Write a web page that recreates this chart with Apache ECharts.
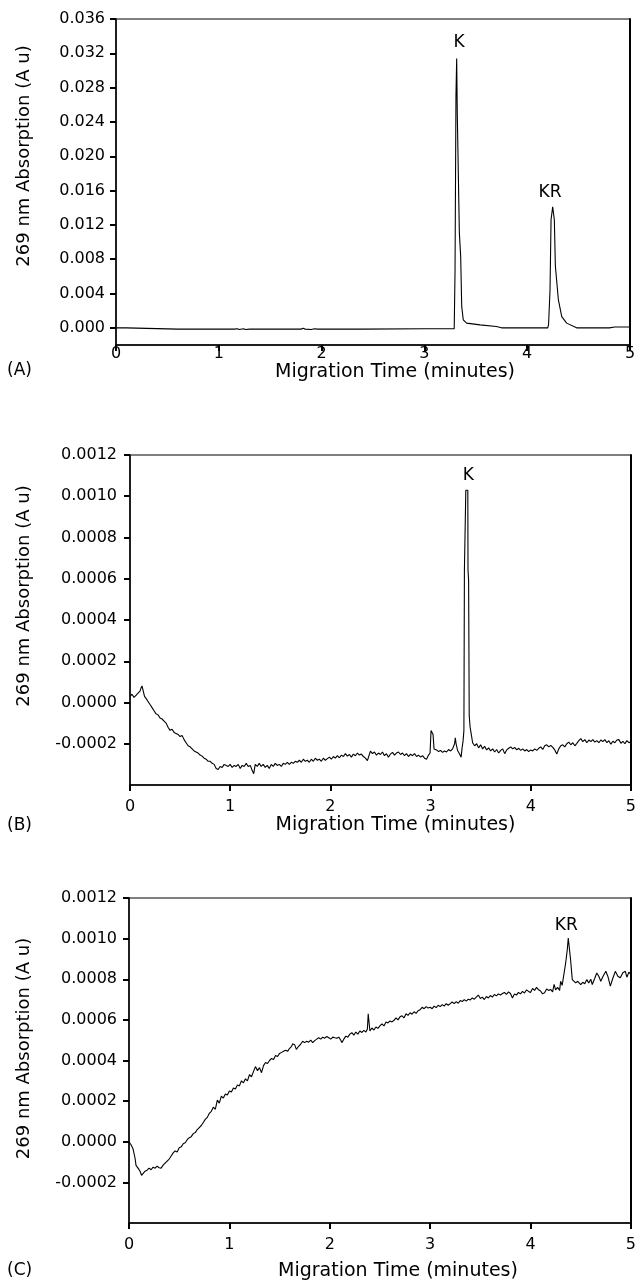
<!DOCTYPE html>
<html>
<head>
<meta charset="utf-8">
<script src="https://cdn.jsdelivr.net/npm/echarts@6/dist/echarts.min.js"></script>
<style>
  html, body { margin: 0; padding: 0; background: #fff; }
  #main { width: 639px; height: 1282px; }
</style>
</head>
<body>
<div id="main"></div>
<script>
// tick labels
var timeTicks = [0, 1, 2, 3, 4, 5];
var ticksA = [0, 0.004, 0.008, 0.012, 0.016, 0.020, 0.024, 0.028, 0.032, 0.036];
var ticksBC = [-0.0002, 0, 0.0002, 0.0004, 0.0006, 0.0008, 0.0010, 0.0012];

// panel A trace [minutes, A u]
var traceA = [
  [0.00, 0.0000], [0.10, 0.0000], [0.11, -0.00015], [0.60, -0.00015], [1.15, -0.00015],
  [1.16, -0.00005], [1.18, -0.00010], [1.20, -0.00020], [1.24, -0.00010], [1.26, -0.00020],
  [1.30, -0.00015], [1.80, -0.00015], [1.82, -0.00005], [1.84, -0.00015], [1.90, -0.00020],
  [1.93, -0.00010], [1.96, -0.00015], [2.40, -0.00015], [3.00, -0.00010], [3.29, -0.00010],
  [3.298, 0.0066], [3.307, 0.0270], [3.314, 0.0314], [3.320, 0.0249], [3.334, 0.0249],
  [3.340, 0.0111], [3.353, 0.0083], [3.363, 0.0025], [3.378, 0.00094], [3.411, 0.00055],
  [3.541, 0.00035], [3.70, 0.00016], [3.75, 0.0000], [4.20, 0.0000], [4.208, 0.0004],
  [4.222, 0.0044], [4.232, 0.0126], [4.248, 0.0141], [4.264, 0.0126], [4.274, 0.0072],
  [4.303, 0.0033], [4.336, 0.0013], [4.384, 0.00055], [4.48, 0.0000], [4.80, 0.0000],
  [4.85, 0.0001], [5.00, 0.0001]
];

// panel B trace
var traceB = [
  [0.00, 0.000030], [0.02, 0.000040], [0.04, 0.000025], [0.06, 0.000035], [0.08, 0.000045],
  [0.10, 0.000055], [0.11, 0.000070], [0.12, 0.000080], [0.13, 0.000060], [0.145, 0.000030],
  [0.16, 0.000020], [0.18, 0.000005], [0.20, -0.000010], [0.22, -0.000025], [0.24, -0.000040],
  [0.26, -0.000055], [0.28, -0.000060], [0.30, -0.000075], [0.32, -0.000080], [0.34, -0.000090],
  [0.36, -0.000100], [0.38, -0.000120], [0.40, -0.000135], [0.42, -0.000130], [0.44, -0.000145],
  [0.46, -0.000150], [0.48, -0.000155], [0.50, -0.000165], [0.52, -0.000160], [0.54, -0.000180],
  [0.56, -0.000195], [0.58, -0.000210], [0.60, -0.000215], [0.62, -0.000225], [0.64, -0.000235],
  [0.66, -0.000240], [0.68, -0.000245], [0.70, -0.000255], [0.72, -0.000260], [0.74, -0.000270],
  [0.76, -0.000275], [0.78, -0.000285], [0.80, -0.000285], [0.82, -0.000295], [0.84, -0.000300],
  [0.86, -0.000320], [0.88, -0.000325], [0.90, -0.000310], [0.92, -0.000315], [0.94, -0.000300],
  [0.96, -0.000305], [0.98, -0.000310], [1.00, -0.000300], [1.02, -0.000315], [1.04, -0.000305],
  [1.06, -0.000310], [1.08, -0.000300], [1.10, -0.000320], [1.12, -0.000305], [1.14, -0.000310],
  [1.16, -0.000295], [1.18, -0.000310], [1.20, -0.000305], [1.22, -0.000330], [1.235, -0.000345],
  [1.25, -0.000300], [1.27, -0.000310], [1.29, -0.000295], [1.31, -0.000310], [1.33, -0.000300],
  [1.35, -0.000315], [1.37, -0.000305], [1.39, -0.000320], [1.41, -0.000300], [1.43, -0.000310],
  [1.45, -0.000295], [1.47, -0.000305], [1.49, -0.000300], [1.51, -0.000310], [1.53, -0.000295],
  [1.55, -0.000300], [1.57, -0.000290], [1.59, -0.000300], [1.61, -0.000290], [1.63, -0.000295],
  [1.65, -0.000285], [1.67, -0.000290], [1.69, -0.000280], [1.71, -0.000290], [1.73, -0.000275],
  [1.75, -0.000285], [1.77, -0.000280], [1.79, -0.000290], [1.81, -0.000275], [1.83, -0.000285],
  [1.85, -0.000270], [1.87, -0.000280], [1.89, -0.000275], [1.91, -0.000285], [1.93, -0.000270],
  [1.95, -0.000280], [1.97, -0.000272], [1.99, -0.000265], [2.01, -0.000275], [2.03, -0.000262],
  [2.05, -0.000270], [2.07, -0.000258], [2.09, -0.000268], [2.11, -0.000255], [2.13, -0.000262],
  [2.15, -0.000248], [2.17, -0.000260], [2.19, -0.000252], [2.21, -0.000265], [2.23, -0.000250],
  [2.25, -0.000258], [2.27, -0.000245], [2.29, -0.000255], [2.31, -0.000250], [2.33, -0.000262],
  [2.35, -0.000270], [2.37, -0.000282], [2.39, -0.000250], [2.40, -0.000236], [2.42, -0.000248],
  [2.44, -0.000240], [2.46, -0.000255], [2.48, -0.000245], [2.50, -0.000252], [2.52, -0.000240],
  [2.54, -0.000258], [2.56, -0.000248], [2.58, -0.000265], [2.60, -0.000250], [2.62, -0.000242],
  [2.64, -0.000255], [2.66, -0.000245], [2.68, -0.000240], [2.70, -0.000252], [2.72, -0.000245],
  [2.74, -0.000258], [2.76, -0.000248], [2.78, -0.000262], [2.80, -0.000250], [2.82, -0.000258],
  [2.84, -0.000248], [2.86, -0.000262], [2.88, -0.000255], [2.90, -0.000265], [2.92, -0.000258],
  [2.94, -0.000270], [2.96, -0.000275], [2.98, -0.000255], [2.995, -0.000245], [3.005, -0.000136],
  [3.015, -0.000145], [3.025, -0.000155], [3.035, -0.000225], [3.06, -0.000230], [3.08, -0.000238],
  [3.10, -0.000232], [3.12, -0.000242], [3.14, -0.000235], [3.16, -0.000240], [3.18, -0.000228],
  [3.20, -0.000235], [3.22, -0.000225], [3.24, -0.000200], [3.247, -0.000171], [3.255, -0.000200],
  [3.27, -0.000233], [3.29, -0.000250], [3.305, -0.000265], [3.315, -0.000220], [3.325, -0.000185],
  [3.333, -0.000136], [3.338, 0.000641], [3.347, 0.000649], [3.352, 0.001029], [3.372, 0.001029],
  [3.374, 0.000641], [3.380, 0.000592], [3.386, -0.000063], [3.395, -0.000120], [3.403, -0.000144],
  [3.42, -0.000195], [3.44, -0.000210], [3.46, -0.000200], [3.48, -0.000220], [3.50, -0.000205],
  [3.52, -0.000225], [3.54, -0.000212], [3.56, -0.000230], [3.58, -0.000220], [3.60, -0.000235],
  [3.62, -0.000225], [3.64, -0.000240], [3.66, -0.000228], [3.68, -0.000245], [3.70, -0.000232],
  [3.72, -0.000225], [3.74, -0.000248], [3.76, -0.000230], [3.78, -0.000222], [3.80, -0.000215],
  [3.82, -0.000225], [3.84, -0.000218], [3.86, -0.000230], [3.88, -0.000222], [3.90, -0.000232],
  [3.92, -0.000225], [3.94, -0.000235], [3.96, -0.000228], [3.98, -0.000238], [4.00, -0.000230],
  [4.02, -0.000235], [4.04, -0.000225], [4.06, -0.000232], [4.08, -0.000222], [4.10, -0.000215],
  [4.12, -0.000228], [4.14, -0.000210], [4.16, -0.000205], [4.18, -0.000215], [4.20, -0.000208],
  [4.22, -0.000218], [4.24, -0.000230], [4.26, -0.000250], [4.28, -0.000225], [4.30, -0.000210],
  [4.32, -0.000205], [4.34, -0.000215], [4.36, -0.000200], [4.38, -0.000192], [4.40, -0.000205],
  [4.42, -0.000195], [4.44, -0.000210], [4.46, -0.000198], [4.48, -0.000185], [4.50, -0.000175],
  [4.52, -0.000190], [4.54, -0.000180], [4.56, -0.000195], [4.58, -0.000182], [4.60, -0.000190],
  [4.62, -0.000180], [4.64, -0.000192], [4.66, -0.000185], [4.68, -0.000195], [4.70, -0.000182],
  [4.72, -0.000190], [4.74, -0.000180], [4.76, -0.000195], [4.78, -0.000185], [4.80, -0.000202],
  [4.82, -0.000188], [4.84, -0.000195], [4.86, -0.000182], [4.88, -0.000180], [4.90, -0.000198],
  [4.92, -0.000188], [4.94, -0.000200], [4.96, -0.000185], [4.98, -0.000195], [5.00, -0.000190]
];

// panel C trace
var traceC = [
  [0.00, 0.000000], [0.02, -0.000015], [0.04, -0.000035], [0.06, -0.000080], [0.07, -0.000116],
  [0.09, -0.000130], [0.11, -0.000145], [0.125, -0.000165], [0.14, -0.000160], [0.16, -0.000145],
  [0.18, -0.000140], [0.20, -0.000130], [0.22, -0.000138], [0.24, -0.000125], [0.26, -0.000130],
  [0.28, -0.000120], [0.30, -0.000128], [0.32, -0.000130], [0.34, -0.000115], [0.36, -0.000105],
  [0.38, -0.000095], [0.40, -0.000085], [0.42, -0.000070], [0.44, -0.000055], [0.46, -0.000045],
  [0.48, -0.000050], [0.50, -0.000030], [0.52, -0.000025], [0.54, -0.000010], [0.56, -0.000005],
  [0.58, 0.000010], [0.60, 0.000020], [0.62, 0.000025], [0.64, 0.000040], [0.66, 0.000045],
  [0.68, 0.000060], [0.70, 0.000070], [0.72, 0.000080], [0.74, 0.000095], [0.76, 0.000110],
  [0.78, 0.000120], [0.80, 0.000140], [0.82, 0.000150], [0.84, 0.000170], [0.86, 0.000160],
  [0.88, 0.000205], [0.90, 0.000190], [0.92, 0.000225], [0.94, 0.000215], [0.96, 0.000235],
  [0.98, 0.000230], [1.00, 0.000250], [1.02, 0.000245], [1.04, 0.000265], [1.06, 0.000260],
  [1.08, 0.000280], [1.10, 0.000275], [1.12, 0.000300], [1.14, 0.000290], [1.16, 0.000310],
  [1.18, 0.000300], [1.20, 0.000330], [1.22, 0.000320], [1.24, 0.000345], [1.26, 0.000370],
  [1.28, 0.000350], [1.30, 0.000365], [1.32, 0.000340], [1.34, 0.000375], [1.36, 0.000390],
  [1.38, 0.000385], [1.40, 0.000400], [1.42, 0.000410], [1.44, 0.000405], [1.46, 0.000425],
  [1.48, 0.000420], [1.50, 0.000435], [1.52, 0.000440], [1.54, 0.000445], [1.56, 0.000450],
  [1.58, 0.000445], [1.60, 0.000460], [1.62, 0.000470], [1.63, 0.000482], [1.65, 0.000478],
  [1.667, 0.000455], [1.69, 0.000470], [1.71, 0.000480], [1.73, 0.000495], [1.75, 0.000488],
  [1.77, 0.000495], [1.79, 0.000490], [1.81, 0.000500], [1.83, 0.000488], [1.85, 0.000498],
  [1.87, 0.000505], [1.89, 0.000512], [1.91, 0.000505], [1.93, 0.000515], [1.95, 0.000510],
  [1.97, 0.000518], [1.99, 0.000512], [2.01, 0.000505], [2.03, 0.000515], [2.05, 0.000512],
  [2.07, 0.000510], [2.09, 0.000515], [2.11, 0.000500], [2.12, 0.000488], [2.14, 0.000505],
  [2.16, 0.000520], [2.18, 0.000515], [2.20, 0.000530], [2.22, 0.000537], [2.24, 0.000525],
  [2.26, 0.000540], [2.28, 0.000530], [2.30, 0.000545], [2.32, 0.000538], [2.34, 0.000548],
  [2.36, 0.000540], [2.375, 0.000555], [2.383, 0.000630], [2.392, 0.000622], [2.40, 0.000545],
  [2.42, 0.000560], [2.44, 0.000550], [2.46, 0.000565], [2.48, 0.000558], [2.50, 0.000570],
  [2.52, 0.000580], [2.54, 0.000570], [2.56, 0.000590], [2.58, 0.000585], [2.60, 0.000595],
  [2.62, 0.000590], [2.64, 0.000598], [2.66, 0.000610], [2.68, 0.000600], [2.70, 0.000615],
  [2.72, 0.000620], [2.74, 0.000610], [2.76, 0.000630], [2.78, 0.000622], [2.80, 0.000635],
  [2.82, 0.000628], [2.84, 0.000640], [2.86, 0.000632], [2.88, 0.000645], [2.90, 0.000650],
  [2.92, 0.000662], [2.94, 0.000655], [2.96, 0.000665], [2.98, 0.000658], [3.00, 0.000662],
  [3.02, 0.000655], [3.04, 0.000668], [3.06, 0.000660], [3.08, 0.000672], [3.10, 0.000665],
  [3.12, 0.000675], [3.14, 0.000668], [3.16, 0.000680], [3.18, 0.000672], [3.20, 0.000680],
  [3.22, 0.000688], [3.24, 0.000680], [3.26, 0.000690], [3.28, 0.000682], [3.30, 0.000695],
  [3.32, 0.000690], [3.34, 0.000700], [3.36, 0.000692], [3.38, 0.000702], [3.40, 0.000698],
  [3.42, 0.000708], [3.44, 0.000702], [3.46, 0.000712], [3.48, 0.000722], [3.50, 0.000705],
  [3.52, 0.000712], [3.54, 0.000700], [3.56, 0.000715], [3.58, 0.000708], [3.60, 0.000720],
  [3.62, 0.000712], [3.64, 0.000725], [3.66, 0.000718], [3.68, 0.000728], [3.70, 0.000722],
  [3.72, 0.000730], [3.74, 0.000735], [3.76, 0.000725], [3.78, 0.000738], [3.80, 0.000730],
  [3.82, 0.000708], [3.84, 0.000728], [3.86, 0.000722], [3.88, 0.000735], [3.90, 0.000728],
  [3.92, 0.000740], [3.94, 0.000732], [3.96, 0.000748], [3.98, 0.000740], [4.00, 0.000735],
  [4.02, 0.000755], [4.04, 0.000745], [4.06, 0.000760], [4.08, 0.000748], [4.10, 0.000742],
  [4.12, 0.000728], [4.14, 0.000733], [4.16, 0.000752], [4.18, 0.000745], [4.20, 0.000750],
  [4.22, 0.000738], [4.235, 0.000775], [4.25, 0.000748], [4.27, 0.000760], [4.29, 0.000745],
  [4.30, 0.000790], [4.315, 0.000770], [4.327, 0.000775], [4.35, 0.000880], [4.366, 0.000945],
  [4.376, 0.001003], [4.393, 0.001003], [4.399, 0.000896], [4.416, 0.000798], [4.43, 0.000790],
  [4.45, 0.000782], [4.47, 0.000790], [4.50, 0.000774], [4.52, 0.000785], [4.54, 0.000778],
  [4.56, 0.000798], [4.58, 0.000782], [4.60, 0.000800], [4.615, 0.000774], [4.64, 0.000805],
  [4.66, 0.000831], [4.68, 0.000815], [4.70, 0.000790], [4.72, 0.000812], [4.75, 0.000839],
  [4.77, 0.000815], [4.795, 0.000766], [4.82, 0.000805], [4.845, 0.000839], [4.87, 0.000815],
  [4.894, 0.000807], [4.92, 0.000832], [4.944, 0.000839], [4.96, 0.000810], [4.98, 0.000835],
  [5.00, 0.000823]
];

// peak names, placed at [minutes, A u]
var peaksA = [{ name: 'K', coord: [3.337, 0.0333] }, { name: 'KR', coord: [4.222, 0.01578] }];
var peaksB = [{ name: 'K', coord: [3.376, 0.001102] }];
var peaksC = [{ name: 'KR', coord: [4.356, 0.001063] }];

var FONT = 'DejaVu Sans';
var xName = 'Migration Time (minutes)';
var yName = '269 nm Absorption (A u)';

function makeX(idx, labelMargin, nameGap, shift) {
  return {
    gridIndex: idx, type: 'value', min: 0, max: 5, interval: 1,
    axisLine: { onZero: false, lineStyle: { color: '#000', width: 1.5 } },
    axisTick: { inside: false, length: 6, lineStyle: { color: '#000', width: 2 } },
    axisLabel: { color: '#000', fontFamily: FONT, fontSize: 16, margin: labelMargin,
      customValues: timeTicks },
    splitLine: { show: false },
    name: xName, nameLocation: 'middle', nameGap: nameGap,
    nameTextStyle: { color: '#000', fontFamily: FONT, fontSize: 19, padding: [0, 0, 0, shift * 2] }
  };
}

function makeY(idx, min, max, ticks, digits, labelMargin, nameGap, shift) {
  return {
    gridIndex: idx, type: 'value', min: min, max: max,
    axisLine: { show: true, onZero: false, lineStyle: { color: '#000', width: 1.5 } },
    axisTick: { show: true, inside: false, length: 6, lineStyle: { color: '#000', width: 2 },
      customValues: ticks },
    axisLabel: { color: '#000', fontFamily: FONT, fontSize: 16, margin: labelMargin,
      customValues: ticks,
      formatter: function (v) { return v.toFixed(digits); } },
    splitLine: { show: false },
    name: yName, nameLocation: 'middle', nameGap: nameGap,
    nameTextStyle: { color: '#000', fontFamily: FONT, fontSize: 18, padding: [0, 0, 0, shift * 2] }
  };
}

function makeRight(idx, min, max) {
  return {
    gridIndex: idx, type: 'value', position: 'right', min: min, max: max,
    axisLine: { show: true, onZero: false, lineStyle: { color: '#000', width: 2 } },
    axisTick: { show: false }, axisLabel: { show: false }, splitLine: { show: false }
  };
}

function makeSeries(data, xi, yi, peaks) {
  return {
    type: 'line', xAxisIndex: xi, yAxisIndex: yi, data: data,
    showSymbol: false, symbol: 'none', animation: false, silent: true,
    lineStyle: { color: '#000', width: 1.1 },
    markPoint: {
      symbol: 'circle', symbolSize: 0, animation: false, silent: true,
      label: { show: true, position: 'inside', color: '#000', fontFamily: FONT, fontSize: 17,
        formatter: function (p) { return p.name; } },
      data: peaks
    }
  };
}

var myChart = echarts.init(document.getElementById('main'), null, { renderer: 'canvas' });

myChart.setOption({
  backgroundColor: '#fff',
  animation: false,
  title: [
    { text: '(A)', left: 7, top: 362, textStyle: { fontFamily: FONT, fontSize: 17, fontWeight: 'normal', color: '#000' }, padding: 0 },
    { text: '(B)', left: 7, top: 817, textStyle: { fontFamily: FONT, fontSize: 17, fontWeight: 'normal', color: '#000' }, padding: 0 },
    { text: '(C)', left: 7, top: 1262, textStyle: { fontFamily: FONT, fontSize: 17, fontWeight: 'normal', color: '#000' }, padding: 0 }
  ],
  grid: [
    { left: 116, top: 19, width: 514, height: 326, show: true, borderColor: '#000', borderWidth: 1 },
    { left: 130, top: 455, width: 502, height: 330, show: true, borderColor: '#000', borderWidth: 1 },
    { left: 129, top: 898, width: 505, height: 328, show: true, borderColor: '#000', borderWidth: 1 }
  ],
  xAxis: [
    makeX(0, 1, 8, 22),
    makeX(1, 14, 22, 15),
    makeX(2, 14, 39, 18)
  ],
  yAxis: [
    makeY(0, -0.002, 0.036, ticksA, 3, 11, 83, 26),
    makeRight(0, -0.002, 0.036),
    makeY(1, -0.0004, 0.0012, ticksBC, 4, 13, 97, 24),
    makeRight(1, -0.0004, 0.0012),
    makeY(2, -0.0004, 0.0012, ticksBC, 4, 12, 96, 12),
    makeRight(2, -0.0004, 0.0012)
  ],
  series: [
    makeSeries(traceA, 0, 0, peaksA),
    makeSeries(traceB, 1, 2, peaksB),
    makeSeries(traceC, 2, 4, peaksC)
  ]
});
</script>
</body>
</html>
